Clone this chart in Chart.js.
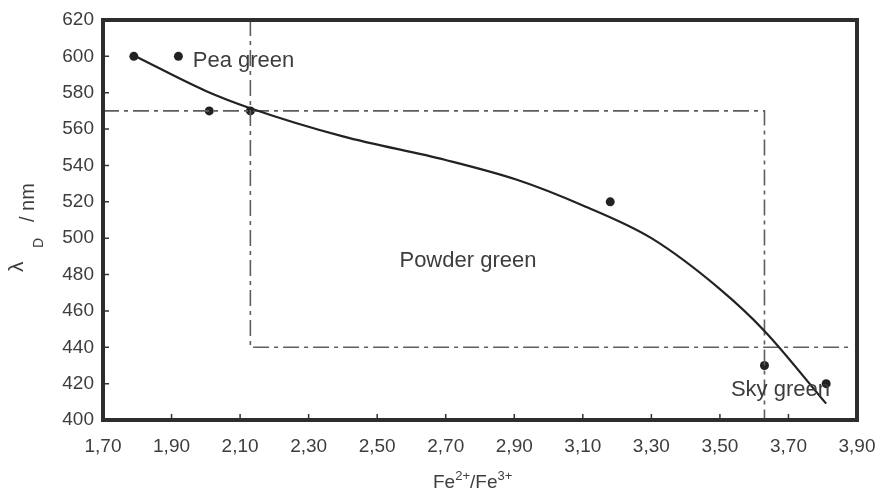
<!DOCTYPE html>
<html>
<head>
<meta charset="utf-8">
<script src="https://cdn.jsdelivr.net/npm/chart.js@4.4.1/dist/chart.umd.min.js"></script>
<style>
    html, body { margin: 0; padding: 0; background: #fff; }
</style>
</head>
<body>
<canvas id="grafico" width="880" height="499"></canvas>
<script>
// ===== Datos =====
const ticksX = [1.70, 1.90, 2.10, 2.30, 2.50, 2.70, 2.90, 3.10, 3.30, 3.50, 3.70, 3.90];
const ticksY = [400, 420, 440, 460, 480, 500, 520, 540, 560, 580, 600, 620];

// puntos medidos
const medidosX = [1.79, 1.92, 2.01, 2.13, 3.18, 3.63, 3.81];
const medidosY = [600, 600, 570, 570, 520, 430, 420];

// curva de ajuste
const ajusteX = [1.79, 2.00, 2.13, 2.40, 2.70, 2.91, 3.10, 3.30, 3.50, 3.63, 3.81];
const ajusteY = [600.5, 581, 571.5, 556, 543, 532, 518, 500, 472, 449, 409];

// límites de zonas (línea de trazo y punto)
const limite1X = [1.70, 3.63, 3.63];
const limite1Y = [570, 570, 400];
const limite2X = [2.13, 2.13, 3.88];
const limite2Y = [620, 440, 440];

// etiquetas de zona
const zonas = [
    { texto: 'Pea green', x: 1.962, y: 594 },
    { texto: 'Powder green', x: 2.565, y: 484 },
    { texto: 'Sky green', x: 3.532, y: 413 }
];

const FUENTE = '"Liberation Sans", Arial, sans-serif';
const GRIS = '#3d3d3d';

const pares = (xs, ys) => xs.map((x, i) => ({ x, y: ys[i] }));

const lineaZona = (data) => ({
    data,
    showLine: true,
    borderColor: '#5e5e5e',
    borderWidth: 1.6,
    borderDash: [16, 5, 4, 5],
    pointRadius: 0,
    tension: 0
});

// ===== Marco, marcas interiores y textos =====
const decoracion = {
    id: 'decoracion',
    afterDraw(chart) {
        const { ctx, chartArea: a, scales } = chart;
        ctx.save();

        // marcas hacia dentro
        ctx.strokeStyle = '#333';
        ctx.lineWidth = 1.5;
        ctx.beginPath();
        ticksX.forEach(v => {
            const px = scales.x.getPixelForValue(v);
            ctx.moveTo(px, a.bottom);
            ctx.lineTo(px, a.bottom - 6);
        });
        ticksY.forEach(v => {
            const py = scales.y.getPixelForValue(v);
            ctx.moveTo(a.left, py);
            ctx.lineTo(a.left + 6, py);
        });
        ctx.stroke();

        // marco
        ctx.strokeStyle = '#2e2e2e';
        ctx.lineWidth = 4;
        ctx.strokeRect(a.left, a.top, a.right - a.left, a.bottom - a.top);

        // etiquetas de zona
        ctx.fillStyle = GRIS;
        ctx.font = '22px ' + FUENTE;
        ctx.textBaseline = 'alphabetic';
        zonas.forEach(z => {
            ctx.fillText(z.texto, scales.x.getPixelForValue(z.x), scales.y.getPixelForValue(z.y));
        });

        // título eje x: Fe2+/Fe3+
        let x = 433;
        const base = 488;
        const trozo = (t, size, dy) => {
            ctx.font = size + 'px ' + FUENTE;
            ctx.fillText(t, x, base + dy);
            x += ctx.measureText(t).width;
        };
        trozo('Fe', 19, 0);
        trozo('2+', 13, -8);
        trozo('/Fe', 19, 0);
        trozo('3+', 13, -8);

        // título eje y: λD / nm (rotado)
        const rotado = (t, size, bx, yIni) => {
            ctx.save();
            ctx.translate(bx, yIni);
            ctx.rotate(-Math.PI / 2);
            ctx.font = size + 'px ' + FUENTE;
            ctx.fillText(t, 0, 0);
            ctx.restore();
        };
        rotado('λ', 21, 23, 272);
        rotado('D', 14, 43, 248);
        rotado('/ nm', 20, 34, 222);

        ctx.restore();
    }
};

new Chart(document.getElementById('grafico'), {
    type: 'scatter',
    data: {
        datasets: [
            {
                data: pares(ajusteX, ajusteY),
                showLine: true,
                borderColor: '#222',
                borderWidth: 2.2,
                pointRadius: 0,
                cubicInterpolationMode: 'monotone'
            },
            lineaZona(pares(limite1X, limite1Y)),
            lineaZona(pares(limite2X, limite2Y)),
            {
                data: pares(medidosX, medidosY),
                pointRadius: 4.5,
                pointBackgroundColor: '#222',
                pointBorderWidth: 0
            }
        ]
    },
    options: {
        responsive: false,
        animation: false,
        layout: { padding: { top: 20, right: 23, left: 0, bottom: 0 } },
        plugins: { legend: { display: false }, tooltip: { enabled: false } },
        scales: {
            x: {
                type: 'linear',
                min: 1.7,
                max: 3.9,
                afterBuildTicks: s => { s.ticks = ticksX.map(v => ({ value: v })); },
                afterFit: s => { s.height = 79; s.paddingLeft = 0; s.paddingRight = 0; },
                grid: { display: false, drawTicks: false },
                border: { display: false },
                ticks: {
                    padding: 15,
                    color: GRIS,
                    font: { family: FUENTE, size: 19 },
                    maxRotation: 0,
                    callback: v => v.toFixed(2).replace('.', ',')
                }
            },
            y: {
                type: 'linear',
                min: 400,
                max: 620,
                afterBuildTicks: s => { s.ticks = ticksY.map(v => ({ value: v })); },
                afterFit: s => { s.width = 103; s.paddingTop = 0; s.paddingBottom = 0; },
                grid: { display: false, drawTicks: false },
                border: { display: false },
                ticks: {
                    padding: 9,
                    color: GRIS,
                    font: { family: FUENTE, size: 19 }
                }
            }
        }
    },
    plugins: [decoracion]
});
</script>
</body>
</html>
